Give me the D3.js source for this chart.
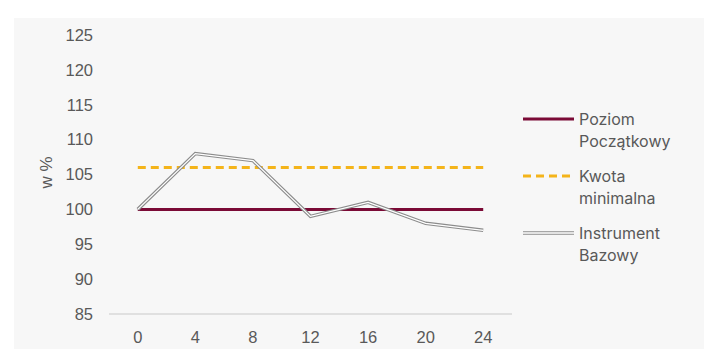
<!DOCTYPE html>
<html>
<head>
<meta charset="utf-8">
<script src="https://cdn.jsdelivr.net/npm/d3@7"></script>
<style>
  body { margin: 0; background: #fff; }
  text { font-family: "Liberation Sans", Arial, sans-serif; fill: #595959; }
</style>
</head>
<body>
<svg id="svg"></svg>
<script>
const months = [0, 4, 8, 12, 16, 20, 24];
const instrument = [100, 108, 107, 99, 101, 98, 97];
const poziom = [100, 100, 100, 100, 100, 100, 100];
const kwota = [106, 106, 106, 106, 106, 106, 106];
const yTicks = [85, 90, 95, 100, 105, 110, 115, 120, 125];

const width = 722, height = 362;
const svg = d3.select("#svg").attr("width", width).attr("height", height);

svg.append("rect")
  .attr("x", 14).attr("y", 18).attr("width", 690).attr("height", 331)
  .attr("fill", "#f7f7f7");

const x = d3.scaleBand().domain(months).range([109, 512]);
const y = d3.scaleLinear().domain([85, 125]).range([314, 35]);
const cx = d => x(d) + x.bandwidth() / 2;

// y tick labels
svg.append("g").selectAll("text").data(yTicks).join("text")
  .attr("x", 93).attr("y", d => y(d)).attr("dy", "0.35em")
  .attr("text-anchor", "end").style("font-size", "16.5px")
  .text(d => d);

// x axis line
svg.append("line")
  .attr("x1", 109).attr("x2", 512).attr("y1", y(85)).attr("y2", y(85))
  .attr("stroke", "#d9d9d9").attr("stroke-width", 1.5);

svg.append("g").selectAll("text").data(months).join("text")
  .attr("x", d => cx(d)).attr("y", 337).attr("dy", "0.35em")
  .attr("text-anchor", "middle").style("font-size", "16.5px")
  .text(d => d);

// y axis title
svg.append("text")
  .attr("transform", `translate(46,${y(105) - 2}) rotate(-90)`)
  .attr("text-anchor", "middle").attr("dy", "0.35em")
  .style("font-size", "17px")
  .text("w %");

const line = d3.line().x((d, i) => cx(months[i])).y(d => y(d));

svg.append("path").datum(kwota).attr("d", line)
  .attr("fill", "none").attr("stroke", "#f4b41a").attr("stroke-width", 3)
  .attr("stroke-dasharray", "8,5");

svg.append("path").datum(poziom).attr("d", line)
  .attr("fill", "none").attr("stroke", "#7b0a36").attr("stroke-width", 3);

// double line effect for instrument
svg.append("path").datum(instrument).attr("d", line)
  .attr("fill", "none").attr("stroke", "#8c8c8c").attr("stroke-width", 3.5);
svg.append("path").datum(instrument).attr("d", line)
  .attr("fill", "none").attr("stroke", "#ffffff").attr("stroke-width", 1.3);

// legend
const legend = [
  { name: ["Poziom", "Początkowy"], y: 119, color: "#7b0a36", dash: null, double: false },
  { name: ["Kwota", "minimalna"], y: 176, color: "#f4b41a", dash: "8,5", double: false },
  { name: ["Instrument", "Bazowy"], y: 233, color: "#8c8c8c", dash: null, double: true }
];

const lg = svg.append("g").selectAll("g").data(legend).join("g");
lg.append("line")
  .attr("x1", 523).attr("x2", 574).attr("y1", d => d.y).attr("y2", d => d.y)
  .attr("stroke", d => d.color)
  .attr("stroke-width", d => d.double ? 3.5 : 3)
  .attr("stroke-dasharray", d => d.dash);
lg.filter(d => d.double).append("line")
  .attr("x1", 523).attr("x2", 574).attr("y1", d => d.y).attr("y2", d => d.y)
  .attr("stroke", "#fff").attr("stroke-width", 1.3);
lg.append("text")
  .attr("x", 579).attr("y", d => d.y).attr("dy", "0.35em")
  .style("font-size", "16px").style("font-family", "Inter, sans-serif")
  .text(d => d.name[0]);
lg.append("text")
  .attr("x", 579).attr("y", d => d.y + 22).attr("dy", "0.35em")
  .style("font-size", "16px").style("font-family", "Inter, sans-serif")
  .text(d => d.name[1]);
</script>
</body>
</html>
